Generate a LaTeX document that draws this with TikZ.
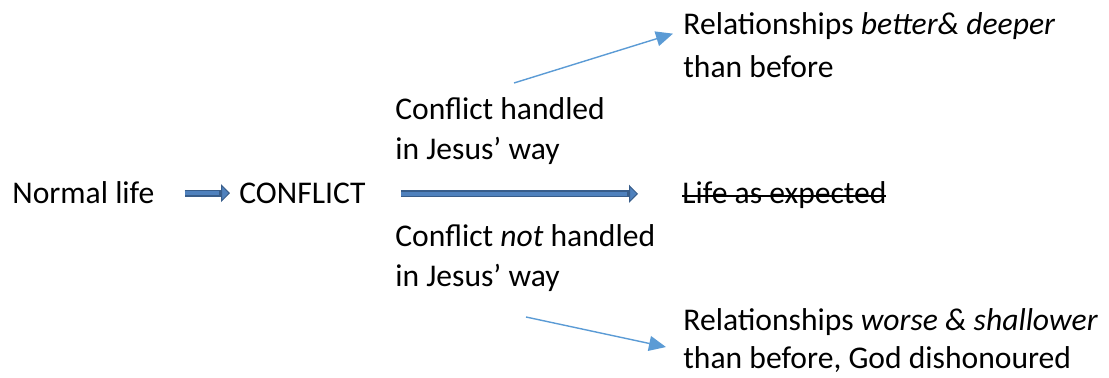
\documentclass[tikz,border=0pt]{standalone}
\usepackage{fontspec}
\setmainfont{Carlito}
\usetikzlibrary{arrows.meta}
\definecolor{blockfill}{RGB}{79,129,189}
\definecolor{blockedge}{RGB}{56,93,138}
\definecolor{thinblue}{RGB}{91,155,213}
\newsavebox{\strikebox}
\newcommand{\strikethru}[1]{\sbox{\strikebox}{#1}\rlap{\rule[0.22em]{\wd\strikebox}{0.8pt}}\usebox{\strikebox}}

\begin{document}
\begin{tikzpicture}[x=0.5pt, y=-0.5pt,
		every node/.style={inner sep=0pt, anchor=base west, align=left,
			font=\fontsize{15.8}{20}\selectfont},
		blockarrow/.style={draw=blockedge, line width=3.5pt,
			-{Triangle[length=4.5pt, width=9pt, line width=0.5pt, fill=blockfill]},
			postaction={draw=blockfill, line width=2.2pt, -, shorten >=5.5pt}},
		thinarrow/.style={draw=thinblue, line width=0.7pt,
			-{Triangle[length=8.5pt, width=7.5pt]}}
		]
	\useasboundingbox (0,0) rectangle (1109,378);
	\node (normal) at (12,204) {Normal life};
	\node (conflict) at (239,204) {CONFLICT};
	\node (handled) at (395,160) {Conflict handled\\in Jesus’ way};
	\node (nothandled) at (395,287) {Conflict \textit{not} handled\\in Jesus’ way};
	\node (expected) at (682,204) {\strikethru{Life as expected}};
	\node[font=\fontsize{15.8}{21.5}\selectfont] (better) at (683,78) {Relationships \textit{better\& deeper}\\than before};
	\node[font=\fontsize{15.8}{19}\selectfont] (worse) at (683,369) {Relationships \textit{worse \& shallower}\\than before, God dishonoured};
	% free ends of the thin arrows
	\coordinate (upfrom) at (514,83);
	\coordinate (downfrom) at (526,317);
	\draw[blockarrow] ([xshift=15pt]normal.east) -- ([xshift=-4.5pt]normal.east -| conflict.west);
	\draw[blockarrow] ([xshift=17.5pt]conflict.east) -- ([xshift=-22pt]conflict.east -| expected.west);
	\draw[thinarrow] (upfrom) -- ([xshift=-5pt, yshift=-10.5pt]better.north west);
	\draw[thinarrow] (downfrom) -- ([xshift=-8.5pt, yshift=-3pt]worse.west);
\end{tikzpicture}
\end{document}
